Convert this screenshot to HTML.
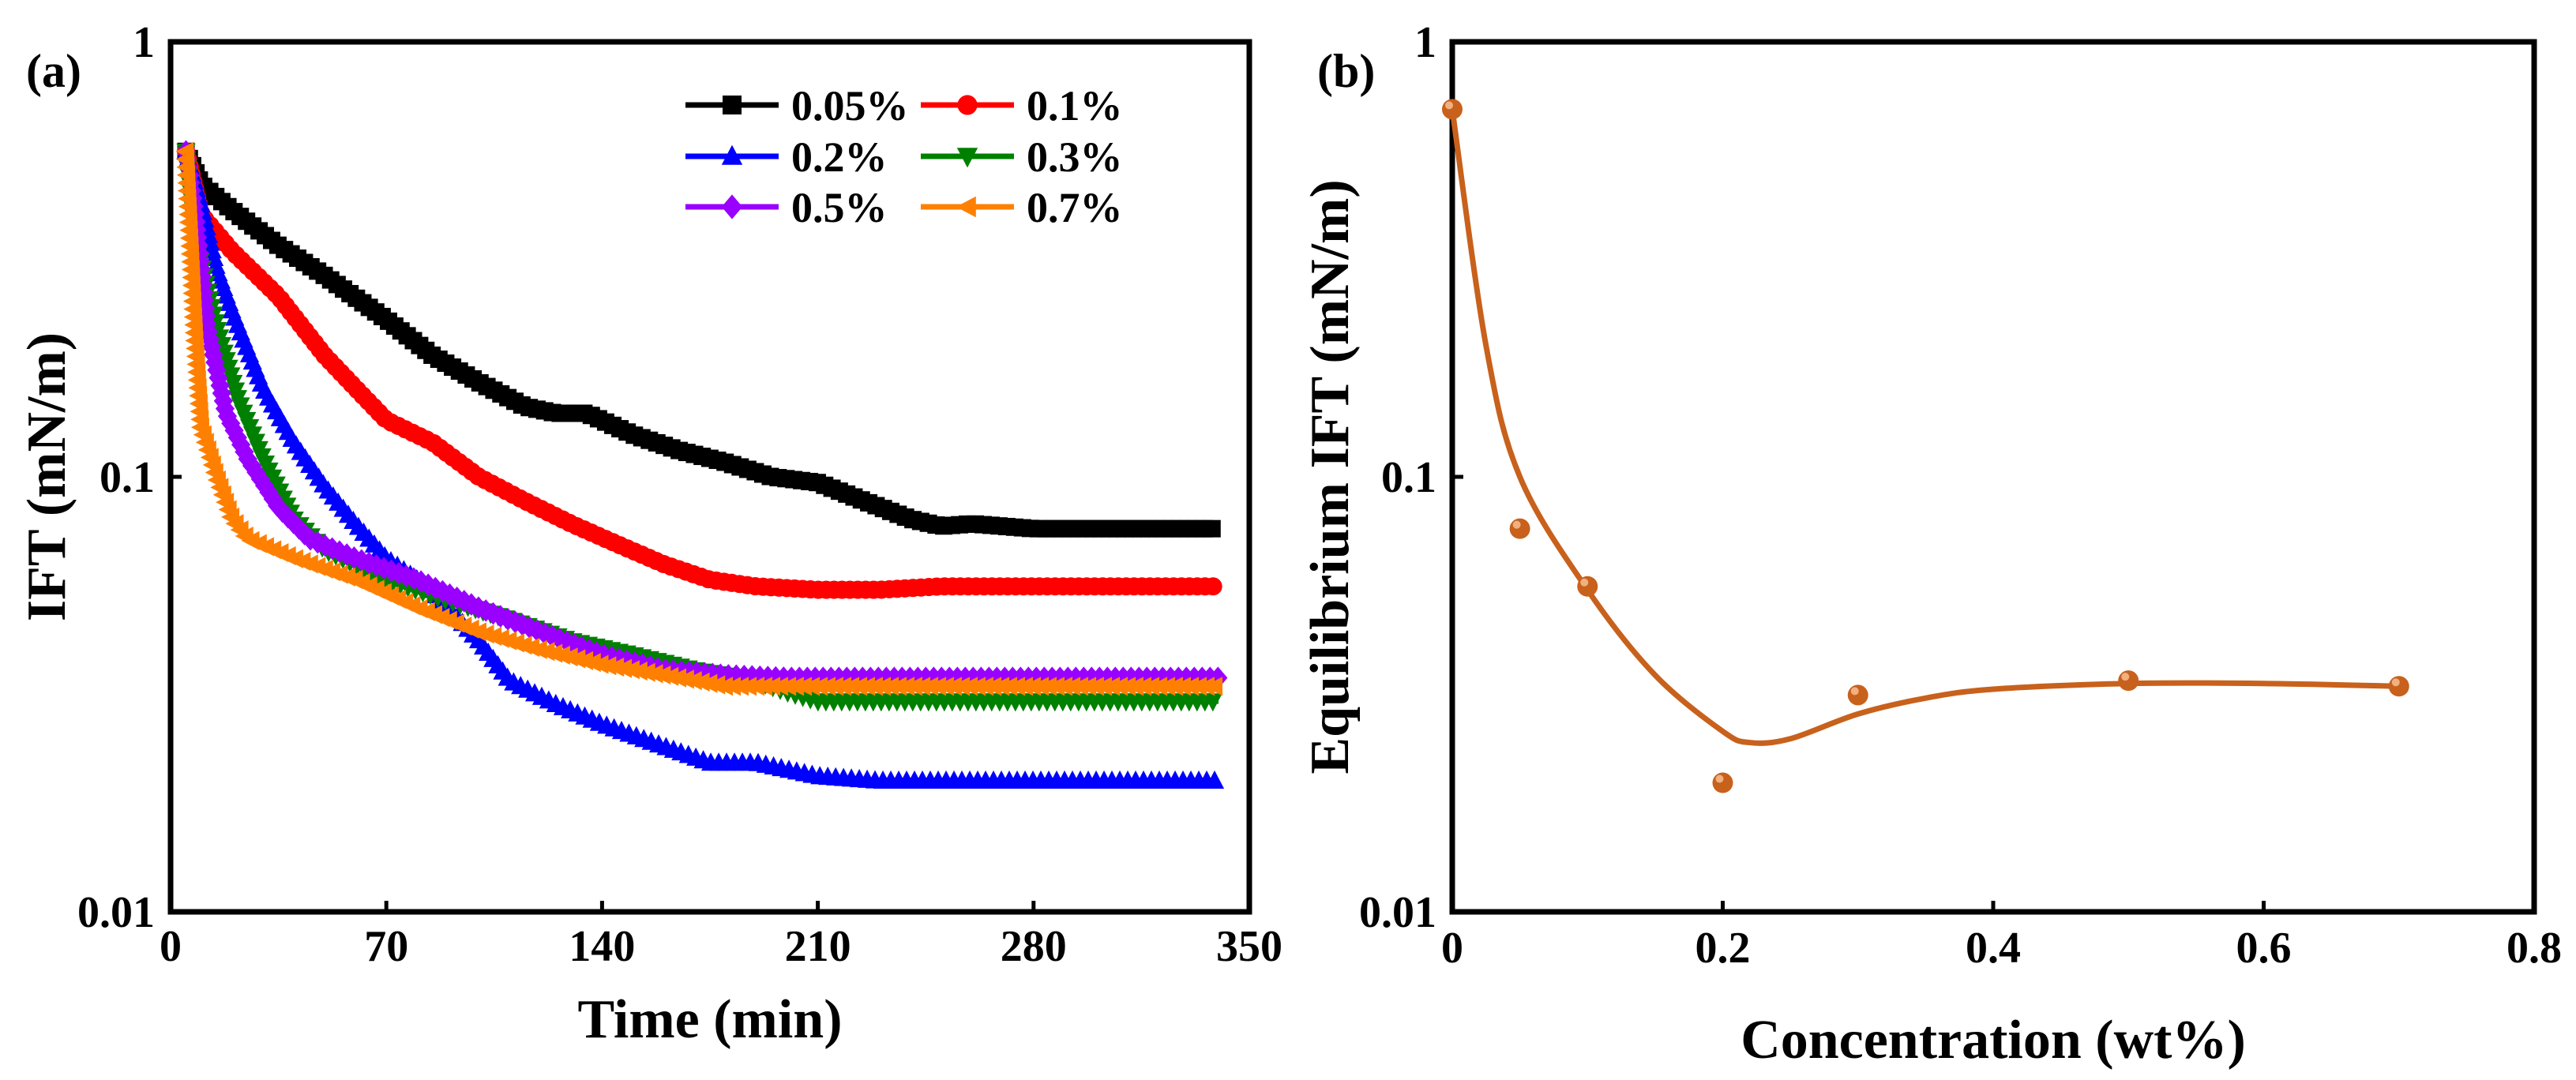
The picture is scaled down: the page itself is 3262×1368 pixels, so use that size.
<!DOCTYPE html>
<html><head><meta charset="utf-8"><style>
html,body{margin:0;padding:0;background:#fff;}
svg{display:block;font-family:"Liberation Serif",serif;font-weight:bold;}
</style></head><body>
<svg id="fig" width="3262" height="1368" viewBox="0 0 3262 1368" xmlns="http://www.w3.org/2000/svg">
<g id="pa"></g>
<g id="pb"></g>
</svg>
<script>
// ---- Panel (a) data ----
const seriesNames = ["0.05%","0.1%","0.2%","0.3%","0.5%","0.7%"];
const timeTicks = [0,70,140,210,280,350];
const logTicks = [1,0.1,0.01];
const logTickLabels = ["1","0.1","0.01"];
const tBlack = [5,10,20,35,50,70,85,100,115,125,135,150,165,180,195,210,225,240,250,260,280,340];
const vBlack = [0.56,0.47,0.41,0.34,0.29,0.23,0.19,0.165,0.145,0.14,0.14,0.125,0.115,0.108,0.1,0.097,0.088,0.08,0.077,0.078,0.076,0.076];
const tRed = [5,10,20,35,50,60,70,85,100,115,130,145,160,175,190,210,230,250,340];
const vRed = [0.56,0.4,0.33,0.26,0.19,0.16,0.135,0.12,0.1,0.088,0.078,0.07,0.063,0.058,0.056,0.055,0.055,0.056,0.056];
const tBlue = [5,10,15,20,30,40,50,60,70,80,90,100,110,125,140,160,175,190,210,230,340];
const vBlue = [0.56,0.42,0.3,0.24,0.16,0.12,0.095,0.078,0.065,0.058,0.05,0.042,0.034,0.03,0.027,0.024,0.022,0.022,0.0205,0.02,0.02];
const tGreen = [5,8,15,22,30,40,50,70,90,110,130,150,170,190,200,210,340];
const vGreen = [0.56,0.35,0.22,0.15,0.11,0.08,0.068,0.058,0.052,0.047,0.042,0.039,0.036,0.034,0.032,0.0305,0.0305];
const tPurple = [5,8,12,18,25,35,45,60,80,100,120,140,160,180,200,340];
const vPurple = [0.56,0.4,0.22,0.14,0.11,0.085,0.072,0.065,0.058,0.05,0.044,0.039,0.036,0.035,0.0345,0.0345];
const tOrange = [5,8,10,15,20,25,40,60,80,100,120,140,160,180,200,340];
const vOrange = [0.56,0.21,0.13,0.1,0.08,0.072,0.065,0.058,0.05,0.044,0.04,0.037,0.035,0.033,0.033,0.033];
// ---- Panel (b) data ----
const concX = [0,0.05,0.1,0.2,0.3,0.5,0.7];
const eqIFT = [0.7,0.076,0.056,0.0198,0.0315,0.034,0.033];
const fitX = [0,0.025,0.05,0.1,0.15,0.2,0.22,0.25,0.3,0.35,0.4,0.5,0.6,0.7];
const fitY = [0.7,0.2,0.1,0.055,0.035,0.026,0.0245,0.025,0.0285,0.031,0.0325,0.0335,0.0335,0.033];
const concTicks = [0,0.2,0.4,0.6,0.8];
const concTickLabels = ["0","0.2","0.4","0.6","0.8"];

const NS="http://www.w3.org/2000/svg";
function mk(tag,parent,attrs){const e=document.createElementNS(NS,tag);for(const k in attrs)e.setAttribute(k,attrs[k]);parent.appendChild(e);return e;}

const TOP=53,BOT=1155;
function yLog(v){return TOP+(0-Math.log10(v))*(BOT-TOP)/2;}

// ---------- Panel A ----------
const pa=document.getElementById('pa');
const AL=216,AR=1582;
function xa(t){return AL+(t/350)*(AR-AL);}
const colors=["#000000","#ff0000","#0000ff","#008000","#9900ff","#ff8000"];
const shapes=["square","circle","up","down","diamond","left"];
const allT=[tBlack,tRed,tBlue,tGreen,tPurple,tOrange];
const allV=[vBlack,vRed,vBlue,vGreen,vPurple,vOrange];

function marker(parent,shape,x,y,s,col){
  let e;
  if(shape==="square") e=mk('rect',parent,{x:x-s,y:y-s,width:2*s,height:2*s,fill:col});
  else if(shape==="circle") e=mk('circle',parent,{cx:x,cy:y,r:s*1.05,fill:col});
  else {
    let p;
    if(shape==="up") p=[[x,y-s*1.2],[x+s*1.1,y+s*0.9],[x-s*1.1,y+s*0.9]];
    else if(shape==="down") p=[[x,y+s*1.2],[x+s*1.1,y-s*0.9],[x-s*1.1,y-s*0.9]];
    else if(shape==="diamond") p=[[x,y-s*1.3],[x+s*1.1,y],[x,y+s*1.3],[x-s*1.1,y]];
    else p=[[x-s*1.2,y],[x+s*0.9,y-s*1.1],[x+s*0.9,y+s*1.1]];
    e=mk('polygon',parent,{points:p.map(q=>q.join(',')).join(' '),fill:col});
  }
  return e;
}

for(let i=0;i<6;i++){
  const g=mk('g',pa,{});
  
  
  const pts=allT[i].map((t,j)=>[xa(t),yLog(allV[i][j])]);
  const line=mk('polyline',g,{points:pts.map(p=>p.join(',')).join(' '),fill:'none',stroke:colors[i],'stroke-width':7,'stroke-linejoin':'round'});
  
  
  const step=10;let acc=0;
  for(let k=0;k<pts.length-1;k++){
    const [x1,y1]=pts[k],[x2,y2]=pts[k+1];
    const L=Math.hypot(x2-x1,y2-y1);
    let d=acc;
    while(d<=L){
      const f=L?d/L:0;
      const m=marker(g,shapes[i],x1+(x2-x1)*f,y1+(y2-y1)*f,11,colors[i]);
      
      
      d+=step;
    }
    acc=d-L;
  }
}

function frame(parent,L,R){
  const r=mk('rect',parent,{x:L,y:TOP,width:R-L,height:BOT-TOP,fill:'none',stroke:'#000','stroke-width':7});
  
  
}
function yTicks(parent,L,R){
  logTicks.forEach((v,i)=>{
    const y=yLog(v);
    const tk=mk('line',parent,{x1:L,x2:L+14,y1:y,y2:y,stroke:'#000','stroke-width':5});
    
    
    const t=mk('text',parent,{x:L-20,y:y+19,'text-anchor':'end','font-size':56});
    t.textContent=logTickLabels[i];
    
    
  });
}
frame(pa,AL,AR);
yTicks(pa,AL,AR);
timeTicks.forEach(t=>{
  const x=xa(t);
  const tk=mk('line',pa,{x1:x,x2:x,y1:BOT,y2:BOT-14,stroke:'#000','stroke-width':5});
  
  
  const lb=mk('text',pa,{x:x,y:BOT+62,'text-anchor':'middle','font-size':56});
  lb.textContent=String(t);
  
  
});
{
  const t=mk('text',pa,{x:(AL+AR)/2,y:1314,'text-anchor':'middle','font-size':70});
  t.textContent="Time (min)";
  
  
  const y=mk('text',pa,{x:0,y:0,'text-anchor':'middle','font-size':70,transform:'translate(82,604) rotate(-90)'});
  y.textContent="IFT (mN/m)";
  
  
  const p=mk('text',pa,{x:33,y:110,'font-size':60});
  p.textContent="(a)";
  
  
}
const legX=[868,1166],legY=[133,198,262];
for(let i=0;i<6;i++){
  const cx=legX[i%2],cy=legY[Math.floor(i/2)];
  const g=mk('g',pa,{});
  
  
  mk('line',g,{x1:cx,x2:cx+118,y1:cy,y2:cy,stroke:colors[i],'stroke-width':7});
  marker(g,shapes[i],cx+59,cy,12,colors[i]);
  const t=mk('text',g,{x:cx+134,y:cy+19,'font-size':54});
  t.textContent=seriesNames[i];
}

// ---------- Panel B ----------
const pb=document.getElementById('pb');
const BL=1839,BR=3209;
function xb(c){return BL+(c/0.8)*(BR-BL);}
frame(pb,BL,BR);
yTicks(pb,BL,BR);
concTicks.forEach((c,i)=>{
  const x=xb(c);
  const tk=mk('line',pb,{x1:x,x2:x,y1:BOT,y2:BOT-14,stroke:'#000','stroke-width':5});
  
  
  const lb=mk('text',pb,{x:x,y:BOT+64,'text-anchor':'middle','font-size':56});
  lb.textContent=concTickLabels[i];
  
  
});
{
  const P=fitX.map((c,i)=>[xb(c),yLog(fitY[i])]);
  let d='M'+P[0][0]+','+P[0][1];
  for(let i=0;i<P.length-1;i++){
    const p0=P[Math.max(0,i-1)],p1=P[i],p2=P[i+1],p3=P[Math.min(P.length-1,i+2)];
    const c1=[p1[0]+(p2[0]-p0[0])/6,p1[1]+(p2[1]-p0[1])/6];
    const c2=[p2[0]-(p3[0]-p1[0])/6,p2[1]-(p3[1]-p1[1])/6];
    d+=' C'+c1.join(',')+' '+c2.join(',')+' '+p2.join(',');
  }
  const c=mk('path',pb,{d:d,fill:'none',stroke:'#c8611c','stroke-width':7});
  
  
}
concX.forEach((c,i)=>{
  const x=xb(c),y=yLog(eqIFT[i]);
  const g=mk('g',pb,{});
  
  
  mk('circle',g,{cx:x,cy:y,r:13,fill:'#c8611c'});
  mk('circle',g,{cx:x-4,cy:y-5,r:5,fill:'#f0b080'});
});
{
  const t=mk('text',pb,{x:(BL+BR)/2,y:1340,'text-anchor':'middle','font-size':70});
  t.textContent="Concentration (wt%)";
  
  
  const y=mk('text',pb,{x:0,y:0,'text-anchor':'middle','font-size':70,transform:'translate(1707,604) rotate(-90)'});
  y.textContent="Equilibrium IFT (mN/m)";
  
  
  const p=mk('text',pb,{x:1668,y:110,'font-size':60});
  p.textContent="(b)";
  
  
}
</script>
</body></html>
